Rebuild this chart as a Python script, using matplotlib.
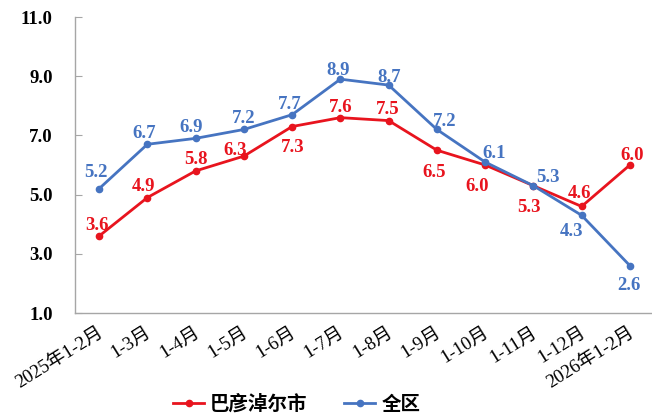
import matplotlib
matplotlib.use('Agg')
import matplotlib.pyplot as plt
import matplotlib.transforms as mtransforms

months = ['2025年1-2月', '1-3月', '1-4月', '1-5月', '1-6月', '1-7月', '1-8月',
          '1-9月', '1-10月', '1-11月', '1-12月', '2026年1-2月']
bayannur = [3.6, 4.9, 5.8, 6.3, 7.3, 7.6, 7.5, 6.5, 6.0, 5.3, 4.6, 6.0]
region = [5.2, 6.7, 6.9, 7.2, 7.7, 8.9, 8.7, 7.2, 6.1, 5.3, 4.3, 2.6]

# label offsets in pixels (dx, dy), screen y up
red_off = [(-2, 11), (-4, 11), (0, 11), (-9, 6), (1, -21), (0, 10),
           (-1, 11), (-3, -22), (-8, -22), (-4, -22), (-2, 13), (2, 10)]
blue_off = [(-3, 16), (-3, 11), (-4, 11), (0, 11), (-2, 10), (-2, 9),
            (1, 8), (8, 8), (9, 9), (15, 8), (-10, -16), (-1, -20)]

red = '#E8141E'
blue = '#4674C1'
serif = ['Liberation Serif', 'Noto Sans CJK SC']

fig = plt.figure(figsize=(6.52, 4.16), dpi=100)
ax = fig.add_axes([75 / 652, 1 - 313 / 416, 579 / 652, (313 - 17) / 416])

x = list(range(len(months)))
ax.plot(x, bayannur, color=red, lw=2, marker='o', ms=4.5, label='巴彦淖尔市', zorder=3)
ax.plot(x, region, color=blue, lw=2, marker='o', ms=4.5, label='全区', zorder=3)

for xs, vals, offs, c in [(x, bayannur, red_off, red), (x, region, blue_off, blue)]:
    for i, v in enumerate(vals):
        ax.annotate('%.1f' % v, (xs[i], v), xytext=offs[i], textcoords='offset pixels',
                    ha='center', va='center', color=c, fontsize=13.5,
                    fontweight='bold', family=serif, zorder=4)

ax.set_xlim(-0.5, 11.5)
ax.set_ylim(1, 11)
ax.set_yticks([1, 3, 5, 7, 9, 11])
ax.set_yticklabels(['%.1f' % t for t in [1, 3, 5, 7, 9, 11]], fontsize=13.5,
                   fontweight='bold', family=serif)
ax.tick_params(axis='y', direction='in', length=5, color='#A6A6A6', pad=16)
ax.set_xticks(x)
ax.set_xticklabels(months, rotation=32, ha='right', rotation_mode='anchor',
                   fontsize=13.5, family=serif)
ax.tick_params(axis='x', length=0, pad=8)
offset = mtransforms.ScaledTranslation(-2 / 100, 0, fig.dpi_scale_trans)
for lab in ax.get_xticklabels():
    lab.set_transform(lab.get_transform() + offset)

for s in ['top', 'right']:
    ax.spines[s].set_visible(False)
for s in ['left', 'bottom']:
    ax.spines[s].set_color('#A6A6A6')
    ax.spines[s].set_linewidth(1)

fig.legend(loc='center', bbox_to_anchor=(0.455, 0.028), ncol=2, frameon=False,
           handlelength=1.6, handletextpad=0.3, columnspacing=1.9,
           prop={'family': ['Noto Sans CJK SC'], 'weight': 'bold', 'size': 14})

fig.savefig('out.png', dpi=100)
